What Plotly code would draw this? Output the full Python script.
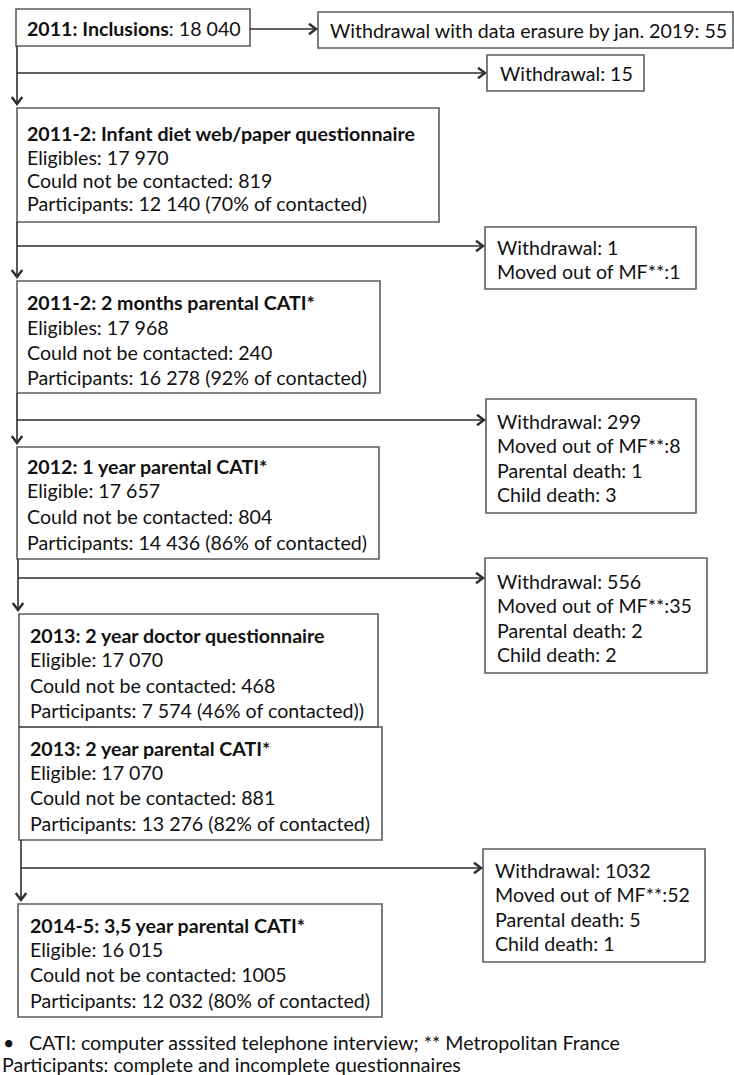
import plotly.graph_objects as go

# ---------------- data ----------------
inclusion_year = "2011"
inclusions = "18 040"
erasure_withdrawals = 55

wave_titles = [
    "2011-2: Infant diet web/paper questionnaire",
    "2011-2: 2 months parental CATI*",
    "2012: 1 year parental CATI*",
    "2013: 2 year doctor questionnaire",
    "2013: 2 year parental CATI*",
    "2014-5: 3,5 year parental CATI*",
]
eligible_labels = ["Eligibles", "Eligibles", "Eligible", "Eligible", "Eligible", "Eligible"]
eligible_n = ["17 970", "17 968", "17 657", "17 070", "17 070", "16 015"]
not_contacted = ["819", "240", "804", "468", "881", "1005"]
participants = ["12 140", "16 278", "14 436", "7 574", "13 276", "12 032"]
pct_contacted = [70, 92, 86, 46, 82, 80]
pct_suffix = [")", ")", ")", "))", ")", ")"]

withdrawal = [15, 1, 299, 556, 1032]
moved_out = [None, 1, 8, 35, 52]
parental_death = [None, None, 1, 2, 5]
child_death = [None, None, 3, 2, 1]

footnotes = [
    "CATI: computer asssited telephone interview; ** Metropolitan France",
    "Participants: complete and incomplete questionnaires",
]

# ---------------- layout constants (pixels) ----------------
W, H = 734, 1075
FONT = "Lato"
FS = 19.6
TXT = "#111111"
BOX = "#5c5c5c"
LINE = "#2e2e2e"

main_boxes = [  # x0, y0, x1, y1, text x, line ys
    (17, 108, 439, 222, 26, [133, 157, 180, 203]),
    (17, 281, 380, 393, 26, [302, 327, 352, 377]),
    (17, 447, 379, 559, 26, [466, 490, 516, 542]),
    (19, 614, 378, 727, 29, [635, 659, 685, 710]),
    (19, 727, 382, 840, 29, [748, 772, 797, 823]),
    (18, 904, 382, 1017, 29, [925, 949, 974, 1000]),
]
side_boxes = [
    (487, 55, 644, 91, 499, 73),
    (485, 227, 696, 289, 496, 247),
    (486, 399, 696, 513, 496, 421),
    (485, 558, 707, 673, 496, 581),
    (483, 849, 705, 962, 494, 870),
]
side_dy = 24.5
# trunk segments: x, y_start, y_arrow_tip, y_branch
trunks = [
    (17, 46, 104, 73),
    (17, 222, 277, 246),
    (17, 393, 443, 420),
    (18, 559, 610, 578),
    (21, 840, 900, 868),
]

fig = go.Figure()
shapes = []
annotations = []


def rect(x0, y0, x1, y1):
    shapes.append(dict(type="rect", x0=x0, y0=y0, x1=x1, y1=y1,
                       line=dict(color=BOX, width=1.6), fillcolor="rgba(0,0,0,0)", layer="above"))


def seg(x0, y0, x1, y1):
    shapes.append(dict(type="line", x0=x0, y0=y0, x1=x1, y1=y1,
                       line=dict(color=LINE, width=1.6)))


def chevron_right(x, y, s=7):
    shapes.append(dict(type="path", path=f"M {x - s},{y - s * 0.75} L {x},{y} L {x - s},{y + s * 0.75}",
                       line=dict(color=LINE, width=2.4)))


def chevron_down(x, y, s=7):
    shapes.append(dict(type="path", path=f"M {x - s * 0.75},{y - s} L {x},{y} L {x + s * 0.75},{y - s}",
                       line=dict(color=LINE, width=2.4)))


def text(x, y, s, size=FS, xshift=0):
    annotations.append(dict(x=x, y=y, xref="x", yref="y", text=s, showarrow=False,
                            xanchor="left", yanchor="middle", align="left", xshift=xshift,
                            font=dict(family=FONT, size=size, color=TXT), borderpad=0))


# inclusion box and erasure box
rect(16, 9, 250, 46)
text(26, 28, f"<b>{inclusion_year}: Inclusions</b>: {inclusions}")
rect(318, 12, 733, 48)
text(329, 30, f"Withdrawal with data erasure by jan. 2019: {erasure_withdrawals}")
seg(250, 29, 316, 29)
chevron_right(316, 29)

# main boxes
for i, (x0, y0, x1, y1, tx, ys) in enumerate(main_boxes):
    rect(x0, y0, x1, y1)
    lines = [
        f"<b>{wave_titles[i]}</b>",
        f"{eligible_labels[i]}: {eligible_n[i]}",
        f"Could not be contacted: {not_contacted[i]}",
        f"Participants: {participants[i]} ({pct_contacted[i]}% of contacted{pct_suffix[i]}",
    ]
    for s, y in zip(lines, ys):
        text(tx, y, s)

# side boxes
for i, (x0, y0, x1, y1, tx, ty) in enumerate(side_boxes):
    rect(x0, y0, x1, y1)
    lines = [f"Withdrawal: {withdrawal[i]}"]
    if moved_out[i] is not None:
        lines.append(f"Moved out of MF**:{moved_out[i]}")
    if parental_death[i] is not None:
        lines.append(f"Parental death: {parental_death[i]}")
    if child_death[i] is not None:
        lines.append(f"Child death: {child_death[i]}")
    for k, s in enumerate(lines):
        text(tx, ty + k * side_dy, s)

# trunks and branches
for (x, ys, ytip, yb), sb in zip(trunks, side_boxes):
    seg(x, ys, x, ytip)
    chevron_down(x, ytip)
    seg(x, yb, sb[0] - 2, yb)
    chevron_right(sb[0] - 2, yb)

# footnotes
text(2, 1042, "•", size=FS)
text(28, 1042, footnotes[0])
text(1, 1064, footnotes[1])

fig.update_layout(
    width=W, height=H,
    margin=dict(l=0, r=0, t=0, b=0),
    paper_bgcolor="white", plot_bgcolor="white",
    xaxis=dict(range=[0, W], visible=False, fixedrange=True),
    yaxis=dict(range=[H, 0], visible=False, fixedrange=True),
    shapes=shapes, annotations=annotations, showlegend=False,
)
fig.write_html(
    "out.html",
    config={"displayModeBar": False},
    post_script="document.body.style.margin='0';document.body.style.padding='0';document.body.style.overflow='hidden';",
)
